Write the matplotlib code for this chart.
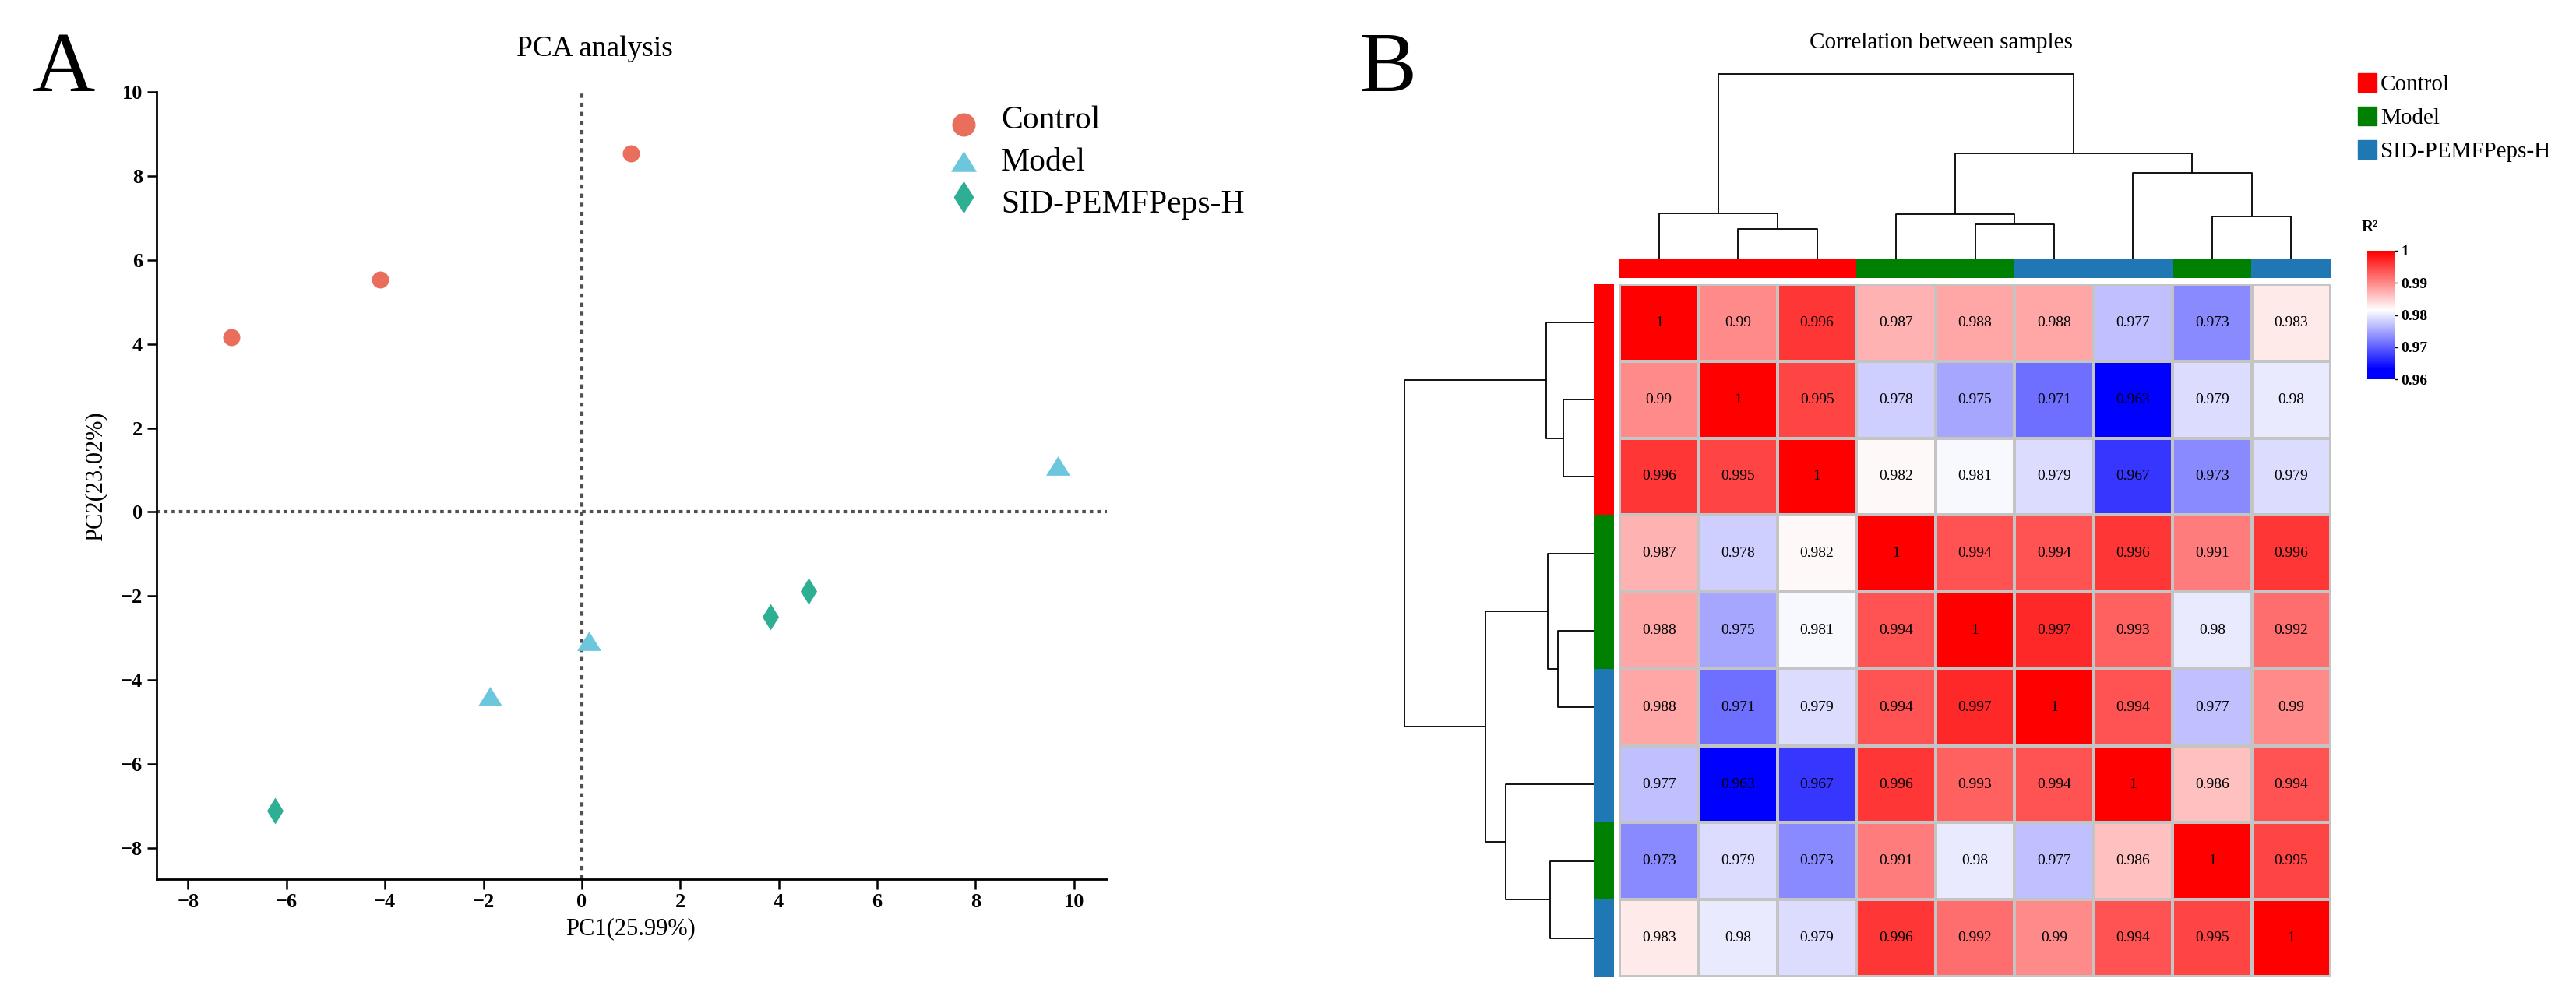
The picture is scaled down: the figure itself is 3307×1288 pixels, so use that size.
import numpy as np
import matplotlib
matplotlib.use("Agg")
import matplotlib.pyplot as plt
from matplotlib.colors import LinearSegmentedColormap, ListedColormap, TwoSlopeNorm

plt.rcParams['font.family'] = ['Liberation Serif', 'DejaVu Serif']

# ---- PCA data (panel A) ----
GROUPS = ["Control", "Model", "SID-PEMFPeps-H"]
control_pc1 = [-7.12, -4.10, 1.00]
control_pc2 = [4.17, 5.54, 8.53]
model_pc1 = [-1.86, 0.15, 9.67]
model_pc2 = [-4.39, -3.07, 1.10]
sid_pc1 = [-6.23, 3.83, 4.61]
sid_pc2 = [-7.11, -2.50, -1.88]
pca_x_ticks = [-8, -6, -4, -2, 0, 2, 4, 6, 8, 10]
pca_y_ticks = [-8, -6, -4, -2, 0, 2, 4, 6, 8, 10]

# ---- correlation data (panel B), already in clustered order ----
sample_groups = ["Control", "Control", "Control", "Model", "Model",
                 "SID-PEMFPeps-H", "SID-PEMFPeps-H", "Model", "SID-PEMFPeps-H"]
corr = np.array([
    [1, 0.99, 0.996, 0.987, 0.988, 0.988, 0.977, 0.973, 0.983],
    [0.99, 1, 0.995, 0.978, 0.975, 0.971, 0.963, 0.979, 0.98],
    [0.996, 0.995, 1, 0.982, 0.981, 0.979, 0.967, 0.973, 0.979],
    [0.987, 0.978, 0.982, 1, 0.994, 0.994, 0.996, 0.991, 0.996],
    [0.988, 0.975, 0.981, 0.994, 1, 0.997, 0.993, 0.98, 0.992],
    [0.988, 0.971, 0.979, 0.994, 0.997, 1, 0.994, 0.977, 0.99],
    [0.977, 0.963, 0.967, 0.996, 0.993, 0.994, 1, 0.986, 0.994],
    [0.973, 0.979, 0.973, 0.991, 0.98, 0.977, 0.986, 1, 0.995],
    [0.983, 0.98, 0.979, 0.996, 0.992, 0.99, 0.994, 0.995, 1],
])
# linkage: (child a, child b, height); new nodes numbered from 9
linkage = [
    (1, 2, 0.39),
    (4, 5, 0.45),
    (7, 8, 0.55),
    (3, 10, 0.58),
    (0, 9, 0.60),
    (6, 11, 1.12),
    (12, 14, 1.37),
    (13, 15, 2.40),
]
cbar_ticks = [0.96, 0.97, 0.98, 0.99, 1.0]
cbar_labels = ["0.96", "0.97", "0.98", "0.99", "1"]

pca_colors = {"Control": "#EA6E5C", "Model": "#6CC6DC", "SID-PEMFPeps-H": "#2EAE93"}
anno_colors = {"Control": "#FF0000", "Model": "#008000", "SID-PEMFPeps-H": "#1F77B4"}

W, H = 3307, 1288
fig = plt.figure(figsize=(W / 100, H / 100), dpi=100)


def box(l, t, r, b):
    return [l / W, 1 - b / H, (r - l) / W, (b - t) / H]


# overlay for labels / legends in pixel coordinates
ov = fig.add_axes([0, 0, 1, 1], zorder=10)
ov.set_xlim(0, W)
ov.set_ylim(H, 0)
ov.axis("off")

# ================= Panel A =================
tri = [(0, 0.8), (-1, -0.8), (1, -0.8)]
dia = [(0, 1), (0.62, 0), (0, -1), (-0.62, 0)]
markers = {"Control": ("o", 15.8), "Model": (tri, 22.3), "SID-PEMFPeps-H": (dia, 24.5)}
leg_markers = {"Control": ("o", 21.6), "Model": (tri, 23.8), "SID-PEMFPeps-H": (dia, 30.0)}

ax = fig.add_axes(box(201, 118, 1421, 1129))
ax.axhline(0, color="#505050", lw=3.0, ls=(0, (1.1, 1.2)), zorder=1)
ax.axvline(0, color="#505050", lw=3.0, ls=(0, (1.3, 1.5)), zorder=1)
for g, xs, ys in zip(GROUPS, [control_pc1, model_pc1, sid_pc1], [control_pc2, model_pc2, sid_pc2]):
    m, ms = markers[g]
    ax.plot(xs, ys, ls="none", marker=m, ms=ms, mfc=pca_colors[g], mec=pca_colors[g], mew=0, zorder=3)
ax.set_xlim(-8.64, 10.67)
ax.set_ylim(-8.74, 10)
ax.set_xticks(pca_x_ticks)
ax.set_yticks(pca_y_ticks)
for s in ["top", "right"]:
    ax.spines[s].set_visible(False)
for s in ["left", "bottom"]:
    ax.spines[s].set_linewidth(2.0)
ax.tick_params(width=1.8, length=9, pad=4, labelsize=19)
for lab in ax.get_xticklabels() + ax.get_yticklabels():
    lab.set_fontweight("bold")

ov.text(763, 72, "PCA analysis", fontsize=27, ha="center", va="baseline")
ov.text(42, 117, "A", fontsize=80, ha="left", va="baseline")
ov.text(809, 1193, "PC1(25.99%)", fontsize=22, ha="center", va="center")
ov.text(123, 612, "PC2(23.02%)", fontsize=22, ha="center", va="center", rotation=90)

for i, g in enumerate(GROUPS):
    m, ms = leg_markers[g]
    ov.plot([1237], [160 + i * 46.5], ls="none", marker=m, ms=ms,
            mfc=pca_colors[g], mec=pca_colors[g], mew=0)
    ov.text(1285, 165 + i * 54, g, fontsize=30, ha="left", va="baseline")

# ================= Panel B =================
cmap = LinearSegmentedColormap.from_list("bwr_r2", ["#0000FF", "#FFFFFF", "#FF0000"])
norm = TwoSlopeNorm(vmin=0.963, vcenter=0.9815, vmax=1.0)
n = corr.shape[0]

hm = fig.add_axes(box(2079, 365, 2992, 1254))
hm.pcolormesh(np.arange(n + 1), np.arange(n + 1), corr, cmap=cmap, norm=norm,
              edgecolors="#C4C4C4", linewidth=1.6)
for i in range(n):
    for j in range(n):
        hm.text(j + 0.5, i + 0.5, f"{corr[i, j]:g}", ha="center", va="center", fontsize=14)
hm.set_xlim(0, n)
hm.set_ylim(n, 0)
hm.axis("off")

group_idx = [GROUPS.index(g) for g in sample_groups]
anno_cmap = ListedColormap([anno_colors[g] for g in GROUPS])

ca = fig.add_axes(box(2079, 333, 2992, 357))
ca.imshow(np.array(group_idx)[None, :], aspect="auto", cmap=anno_cmap, vmin=-0.5, vmax=2.5,
          extent=(0, n, 1, 0), interpolation="nearest")
ca.axis("off")

ra = fig.add_axes(box(2046, 365, 2072, 1254))
ra.imshow(np.array(group_idx)[:, None], aspect="auto", cmap=anno_cmap, vmin=-0.5, vmax=2.5,
          extent=(0, 1, n, 0), interpolation="nearest")
ra.axis("off")


def dendro(axd, orient):
    pos = {k: k + 0.5 for k in range(n)}
    hgt = {k: 0.0 for k in range(n)}
    for idx, (a, b, h) in enumerate(linkage):
        xa, xb = pos[a], pos[b]
        ha, hb = hgt[a], hgt[b]
        p = [xa, xa, xb, xb]
        q = [ha, h, h, hb]
        if orient == "top":
            axd.plot(p, q, color="black", lw=1.3, clip_on=False, solid_capstyle="butt")
        else:
            axd.plot(q, p, color="black", lw=1.3, clip_on=False, solid_capstyle="butt")
        pos[n + idx] = (xa + xb) / 2
        hgt[n + idx] = h
    top = max(h for _, _, h in linkage)
    if orient == "top":
        axd.set_xlim(0, n)
        axd.set_ylim(0, top)
    else:
        axd.set_ylim(n, 0)
        axd.set_xlim(top, 0)
    axd.axis("off")


cd = fig.add_axes(box(2079, 95, 2992, 333))
dendro(cd, "top")
rd = fig.add_axes(box(1803, 365, 2046, 1254))
dendro(rd, "left")

ov.text(2492, 62, "Correlation between samples", fontsize=21, ha="center", va="baseline")
ov.text(1745, 117, "B", fontsize=80, ha="left", va="baseline")

# group legend
for i, g in enumerate(GROUPS):
    yc = 106 + i * 43
    ov.add_patch(plt.Rectangle((3027, yc - 12), 24, 24, color=anno_colors[g]))
    ov.text(3056, yc + 10, g, fontsize=21, ha="left", va="baseline")

# colour key
ov.text(3032, 297, "R²", fontsize=15, fontweight="bold", ha="left", va="baseline")
cb = fig.add_axes(box(3039, 322, 3074, 487))
grad = np.linspace(0.96, 1.0, 400)[:, None]
cb.imshow(grad, aspect="auto", cmap=cmap, norm=norm, origin="lower", extent=(0, 1, 0.96, 1.0))
cb.set_xticks([])
cb.yaxis.tick_right()
cb.set_yticks(cbar_ticks)
cb.set_yticklabels(cbar_labels)
cb.tick_params(axis="y", length=3, width=1, pad=3, labelsize=14)
for lab in cb.get_yticklabels():
    lab.set_fontweight("bold")
for s in cb.spines.values():
    s.set_visible(False)

fig.savefig("out.png", dpi=100)
